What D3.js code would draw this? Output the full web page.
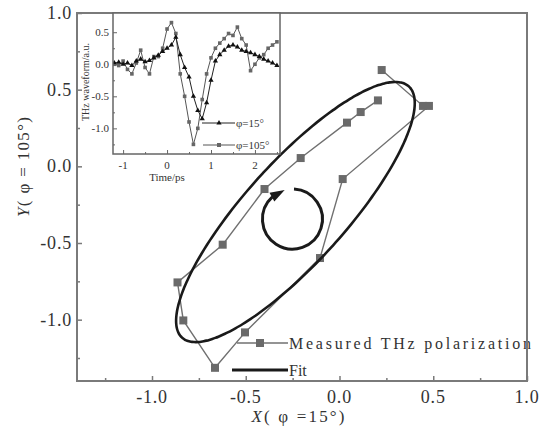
<!DOCTYPE html>
<html><head><meta charset="utf-8">
<script src="https://cdn.jsdelivr.net/npm/d3@7"></script>
<style>html,body{margin:0;padding:0;background:#fff;}svg{display:block;font-family:"Liberation Serif","Times New Roman",serif;}</style>
</head><body>
<svg id="c" width="549" height="427"></svg>
<script>
// ---- main chart data ----
const polX = [0.225, 0.445, 0.477, 0.017, -0.104, -0.504, -0.664, -0.833, -0.864, -0.623, -0.400, -0.207, 0.040, 0.113, 0.205];
const polY = [0.628, 0.394, 0.394, -0.083, -0.598, -1.083, -1.314, -1.005, -0.757, -0.511, -0.148, 0.054, 0.285, 0.354, 0.430];
// fit ellipse: centre x, centre y, semi-major, semi-minor, rotation (deg)
const fitEllipse = [-0.235, -0.298, 1.02, 0.29, 54.6];
const mainTicks = [-1.0, -0.5, 0.0, 0.5, 1.0];
const mainMinor = [-1.25, -0.75, -0.25, 0.25, 0.75];
const xTickLabels = ["-1.0", "-0.5", "0.0", "0.5", "1.0"];
const yTickLabels = ["-1.0", "-0.5", "0.0", "0.5", "1.0"];
const rotationMark = [-0.251, -0.344]; // centre of the circular arrow
// ---- inset data ----
const timePs = [-1.2,-1.1,-1.0,-0.9,-0.8,-0.7,-0.6,-0.5,-0.4,-0.3,-0.2,-0.1,0.0,0.1,0.2,0.3,0.4,0.5,0.6,0.7,0.8,0.9,1.0,1.1,1.2,1.3,1.4,1.5,1.6,1.7,1.8,1.9,2.0,2.1,2.2,2.3,2.4,2.5];
const wave15 = [0.02,0.03,0.0,0.02,-0.02,0.05,0.08,0.04,0.06,0.1,0.14,0.2,0.25,0.3,0.42,0.15,-0.05,-0.2,-0.5,-0.72,-0.85,-0.6,-0.25,0.05,0.15,0.22,0.28,0.3,0.27,0.22,0.2,0.18,0.15,0.12,0.08,0.05,0.02,-0.02];
const wave105 = [0.0,-0.02,0.05,-0.08,-0.15,0.02,0.22,-0.05,-0.15,0.12,0.12,0.25,0.55,0.65,0.48,-0.15,-0.5,-0.9,-1.25,-1.0,-0.55,-0.15,0.1,0.25,0.33,0.4,0.48,0.45,0.58,0.4,0.3,-0.1,0.0,0.1,0.15,0.25,0.3,0.35];
const insetXTicks = [-1, 0, 1, 2];
const insetXMinor = [-0.5, 0.5, 1.5, 2.5];
const insetYTicks = [0.5, 0.0, -0.5, -1.0];
const insetYLabels = ["0.5", "0.0", "-0.5", "-1.0"];
const insetYMinor = [0.25, -0.25, -0.75, -1.25];
const legendMain = ["Measured THz polarization", "Fit"];
const legendInset = ["\u03c6=15\u00b0", "\u03c6=105\u00b0"];

const svg = d3.select("#c");
const L = 77, R = 527, T = 13, B = 381;
const x = d3.scaleLinear().domain([-1.4, 1.0]).range([L, R]);
const y = d3.scaleLinear().domain([-1.4, 1.0]).range([B, T]);
const axisCol = "#7a7a7a", textCol = "#333";

// main data: polarization trace
const pts = polX.map((v, i) => [v, polY[i]]);
svg.append("path").datum(pts)
  .attr("d", d3.line().x(d => x(d[0])).y(d => y(d[1])))
  .attr("fill", "none").attr("stroke", "#707070").attr("stroke-width", 1.4);
svg.selectAll("rect.pm").data(pts).join("rect").attr("class", "pm")
  .attr("x", d => x(d[0]) - 4).attr("y", d => y(d[1]) - 4)
  .attr("width", 8).attr("height", 8).attr("fill", "#6a6a6a");

// fit ellipse
const [ecx, ecy, ea, eb, eang] = fitEllipse;
const th = eang * Math.PI / 180;
const ell = d3.range(0, 360, 2).map(t => {
  const p = t * Math.PI / 180;
  return [ecx + ea * Math.cos(p) * Math.cos(th) - eb * Math.sin(p) * Math.sin(th),
          ecy + ea * Math.cos(p) * Math.sin(th) + eb * Math.sin(p) * Math.cos(th)];
});
svg.append("path").datum(ell)
  .attr("d", d3.line().x(d => x(d[0])).y(d => y(d[1])).curve(d3.curveCardinalClosed))
  .attr("fill", "none").attr("stroke", "#1a1a1a").attr("stroke-width", 2.6);

// rotation arrow
{
  const cx = x(rotationMark[0]), cy = y(rotationMark[1]), r = 30;
  const a0 = -87 * Math.PI / 180, a1 = 228 * Math.PI / 180, aTip = 255 * Math.PI / 180;
  const p = d3.path(); p.arc(cx, cy, r, a0, a1, false);
  svg.append("path").attr("d", p.toString()).attr("fill", "none").attr("stroke", "#1a1a1a").attr("stroke-width", 3);
  const tx = cx + r * Math.cos(aTip), ty = cy + r * Math.sin(aTip);
  const bx = cx + r * Math.cos(a1 - 0.02), by = cy + r * Math.sin(a1 - 0.02);
  const dx = tx - bx, dy = ty - by, len = Math.hypot(dx, dy), nx = -dy / len, ny = dx / len;
  svg.append("path").attr("d", `M${tx},${ty}L${bx + nx * 5},${by + ny * 5}L${bx - nx * 5},${by - ny * 5}Z`).attr("fill", "#1a1a1a");
}

// main legend
svg.append("line").attr("x1", 237).attr("x2", 288).attr("y1", 343).attr("y2", 343).attr("stroke", "#707070").attr("stroke-width", 1.6);
svg.append("rect").attr("x", 256).attr("y", 339).attr("width", 8).attr("height", 8).attr("fill", "#6a6a6a");
svg.append("line").attr("x1", 232).attr("x2", 288).attr("y1", 370).attr("y2", 370).attr("stroke", "#1a1a1a").attr("stroke-width", 3);
svg.append("text").attr("x", 289).attr("y", 349).attr("font-size", 16).attr("fill", textCol)
  .attr("textLength", 242).attr("lengthAdjust", "spacing").text(legendMain[0]);
svg.append("text").attr("x", 289).attr("y", 376).attr("font-size", 16).attr("fill", textCol).text(legendMain[1]);

// main axes frame
svg.append("rect").attr("x", L).attr("y", T).attr("width", R - L).attr("height", B - T)
  .attr("fill", "none").attr("stroke", axisCol).attr("stroke-width", 2);
const gx = svg.append("g").attr("transform", `translate(0,${B})`)
  .call(d3.axisTop(x).tickValues(mainTicks).tickSize(5).tickFormat(""));
const gxm = svg.append("g").attr("transform", `translate(0,${B})`)
  .call(d3.axisTop(x).tickValues(mainMinor).tickSize(3).tickFormat(""));
const gy = svg.append("g").attr("transform", `translate(${L},0)`)
  .call(d3.axisRight(y).tickValues(mainTicks).tickSize(5).tickFormat(""));
const gym = svg.append("g").attr("transform", `translate(${L},0)`)
  .call(d3.axisRight(y).tickValues(mainMinor).tickSize(3).tickFormat(""));
[gx, gxm, gy, gym].forEach(g => { g.select(".domain").remove(); g.selectAll("line").attr("stroke", axisCol).attr("stroke-width", 1.5); });
svg.selectAll("text.xl").data(mainTicks).join("text").attr("class", "xl")
  .attr("x", d => x(d)).attr("y", 403).attr("text-anchor", "middle").attr("font-size", 18).attr("fill", textCol)
  .attr("letter-spacing", 0.8).text((d, i) => xTickLabels[i]);
svg.selectAll("text.yl").data(mainTicks).join("text").attr("class", "yl")
  .attr("x", 72).attr("y", d => y(d) + 6).attr("text-anchor", "end").attr("font-size", 18).attr("fill", textCol)
  .attr("letter-spacing", 0.8).text((d, i) => yTickLabels[i]);
// axis titles
const xt = svg.append("text").attr("x", 298).attr("y", 422).attr("text-anchor", "middle").attr("font-size", 17).attr("fill", textCol)
  .attr("textLength", 93).attr("lengthAdjust", "spacing");
xt.append("tspan").attr("font-style", "italic").text("X");
xt.append("tspan").text("( \u03c6 =15\u00b0)");
const yt = svg.append("text").attr("transform", "translate(29,167) rotate(-90)").attr("text-anchor", "middle").attr("font-size", 17).attr("fill", textCol)
  .attr("textLength", 100).attr("lengthAdjust", "spacing");
yt.append("tspan").attr("font-style", "italic").text("Y");
yt.append("tspan").text("( \u03c6 = 105\u00b0)");

// ---- inset ----
const iL = 113, iR = 280, iT = 13, iB = 154;
const ix = d3.scaleLinear().domain([-1.23, 2.57]).range([iL, iR]);
const iy = d3.scaleLinear().domain([-1.4, 0.8]).range([iB, iT]);
svg.append("rect").attr("x", iL).attr("y", iT).attr("width", iR - iL).attr("height", iB - iT).attr("fill", "#fff");
const ig = svg.append("g");
ig.append("defs").append("clipPath").attr("id", "ic").append("rect").attr("x", iL).attr("y", iT).attr("width", iR - iL).attr("height", iB - iT);
const plot = ig.append("g").attr("clip-path", "url(#ic)");
const s105 = timePs.map((t, i) => [t, wave105[i]]);
const s15 = timePs.map((t, i) => [t, wave15[i]]);
const iline = d3.line().x(d => ix(d[0])).y(d => iy(d[1]));
plot.append("path").datum(s105).attr("d", iline).attr("fill", "none").attr("stroke", "#555").attr("stroke-width", 1);
plot.selectAll("rect.m105").data(s105).join("rect").attr("class", "m105")
  .attr("x", d => ix(d[0]) - 1.8).attr("y", d => iy(d[1]) - 1.8).attr("width", 3.6).attr("height", 3.6).attr("fill", "#666");
plot.append("path").datum(s15).attr("d", iline).attr("fill", "none").attr("stroke", "#222").attr("stroke-width", 1);
const tri = d3.symbol().type(d3.symbolTriangle).size(12);
plot.selectAll("path.m15").data(s15).join("path").attr("class", "m15")
  .attr("transform", d => `translate(${ix(d[0])},${iy(d[1])})`).attr("d", tri).attr("fill", "#111");
// inset legend
ig.append("line").attr("x1", 202).attr("x2", 235).attr("y1", 123).attr("y2", 123).attr("stroke", "#222");
ig.append("path").attr("transform", "translate(219,123)").attr("d", tri).attr("fill", "#111");
ig.append("line").attr("x1", 203).attr("x2", 235).attr("y1", 145).attr("y2", 145).attr("stroke", "#555");
ig.append("rect").attr("x", 217).attr("y", 143).attr("width", 4).attr("height", 4).attr("fill", "#666");
ig.append("text").attr("x", 236).attr("y", 127).attr("font-size", 11).attr("fill", textCol).text(legendInset[0]);
ig.append("text").attr("x", 236).attr("y", 149).attr("font-size", 11).attr("fill", textCol).text(legendInset[1]);
// inset frame and ticks
ig.append("rect").attr("x", iL).attr("y", iT).attr("width", iR - iL).attr("height", iB - iT)
  .attr("fill", "none").attr("stroke", "#666").attr("stroke-width", 1.5);
const ia = [
  ig.append("g").attr("transform", `translate(0,${iB})`).call(d3.axisTop(ix).tickValues(insetXTicks).tickSize(4).tickFormat("")),
  ig.append("g").attr("transform", `translate(0,${iB})`).call(d3.axisTop(ix).tickValues(insetXMinor).tickSize(2).tickFormat("")),
  ig.append("g").attr("transform", `translate(${iL},0)`).call(d3.axisRight(iy).tickValues(insetYTicks).tickSize(4).tickFormat("")),
  ig.append("g").attr("transform", `translate(${iL},0)`).call(d3.axisRight(iy).tickValues(insetYMinor).tickSize(2).tickFormat(""))
];
ia.forEach(g => { g.select(".domain").remove(); g.selectAll("line").attr("stroke", "#666"); });
ig.selectAll("text.ixl").data(insetXTicks).join("text").attr("class", "ixl")
  .attr("x", d => ix(d)).attr("y", 169).attr("text-anchor", "middle").attr("font-size", 11).attr("fill", textCol)
  .text(d => d);
ig.selectAll("text.iyl").data(insetYTicks).join("text").attr("class", "iyl")
  .attr("x", 109).attr("y", d => iy(d) + 4).attr("text-anchor", "end").attr("font-size", 11).attr("fill", textCol)
  .text((d, i) => insetYLabels[i]);
ig.append("text").attr("x", 167).attr("y", 181).attr("text-anchor", "middle").attr("font-size", 11).attr("fill", textCol).text("Time/ps");
ig.append("text").attr("transform", "translate(89,82) rotate(-90)").attr("text-anchor", "middle").attr("font-size", 10).attr("fill", textCol).text("THz waveform/a.u.");
</script>
</body></html>
